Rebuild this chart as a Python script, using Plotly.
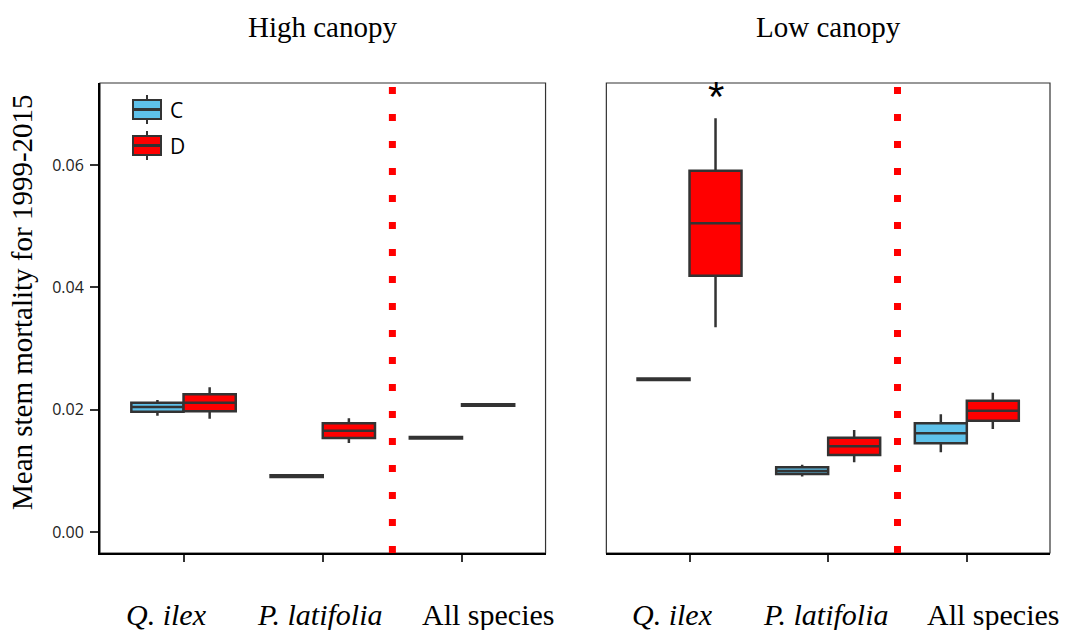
import plotly.graph_objects as go

# Species groups on the x axis and the two canopy panels
species = ["<i>Q. ilex</i>", "<i>P. latifolia</i>", "All species"]
panels = ["High canopy", "Low canopy"]

# Box summaries (lower whisker, Q1, median, Q3, upper whisker) per treatment
high_C_low = [0.0190, 0.00895, 0.01525]
high_C_q1 = [0.01967, 0.00900, 0.01530]
high_C_med = [0.02044, 0.00915, 0.01542]
high_C_q3 = [0.02115, 0.00930, 0.01555]
high_C_up = [0.0216, 0.00935, 0.01560]

high_D_low = [0.01853, 0.01455, 0.02060]
high_D_q1 = [0.01974, 0.01537, 0.02065]
high_D_med = [0.02115, 0.01657, 0.02077]
high_D_q3 = [0.02252, 0.01778, 0.02090]
high_D_up = [0.02366, 0.01859, 0.02095]

low_C_low = [0.02480, 0.0091, 0.01303]
low_C_q1 = [0.02485, 0.0095, 0.01451]
low_C_med = [0.02497, 0.0100, 0.01614]
low_C_q3 = [0.02510, 0.0106, 0.01778]
low_C_up = [0.02515, 0.0110, 0.01925]

low_D_low = [0.03348, 0.0114, 0.01684]
low_D_q1 = [0.04191, 0.01259, 0.0182]
low_D_med = [0.05048, 0.01401, 0.01984]
low_D_q3 = [0.05908, 0.01542, 0.02147]
low_D_up = [0.06765, 0.01668, 0.02278]

treatments = ["C", "D"]
fill = {"C": "#5EC1EA", "D": "#FF0000"}
outline = "#333333"
dodge = 0.1875
box_w = 0.375

data = {
    ("High canopy", "C"): (high_C_low, high_C_q1, high_C_med, high_C_q3, high_C_up),
    ("High canopy", "D"): (high_D_low, high_D_q1, high_D_med, high_D_q3, high_D_up),
    ("Low canopy", "C"): (low_C_low, low_C_q1, low_C_med, low_C_q3, low_C_up),
    ("Low canopy", "D"): (low_D_low, low_D_q1, low_D_med, low_D_q3, low_D_up),
}

fig = go.Figure()
axes = {"High canopy": ("x", "y"), "Low canopy": ("x2", "y2")}
cats = [1, 2, 3]

for panel in panels:
    xa, ya = axes[panel]
    for t in treatments:
        lo, q1, med, q3, up = data[(panel, t)]
        off = -dodge if t == "C" else dodge
        fig.add_trace(go.Box(
            x=[c + off for c in cats], q1=q1, median=med, q3=q3,
            lowerfence=lo, upperfence=up,
            width=box_w, whiskerwidth=0, boxpoints=False,
            fillcolor=fill[t], line=dict(color=outline, width=2.5),
            name=t, showlegend=False, xaxis=xa, yaxis=ya,
        ))

serif = "Liberation Serif, Times New Roman, serif"
sans = "Open Sans, Noto Sans, sans-serif"

xcommon = dict(
    range=[0.4, 3.6], tickvals=cats, showticklabels=False,
    showline=True, linecolor="black", linewidth=2,
    ticks="outside", ticklen=7, tickwidth=1.5, tickcolor="#333",
    showgrid=False, zeroline=False, automargin=False,
)
ycommon = dict(
    range=[-0.00343, 0.07343], showgrid=False, zeroline=False, automargin=False,
)

fig.update_layout(
    width=1065, height=630,
    margin=dict(l=100, r=15, t=83, b=77),
    plot_bgcolor="white", paper_bgcolor="white",
    boxmode="overlay",
    xaxis=dict(domain=[0, 0.469], anchor="y", **xcommon),
    xaxis2=dict(domain=[0.533, 1], anchor="y2", **xcommon),
    yaxis=dict(
        anchor="x", showline=True, linecolor="black", linewidth=2,
        ticks="outside", ticklen=8, tickwidth=1.5, tickcolor="#333",
        tickvals=[0, 0.02, 0.04, 0.06], tickformat=".2f",
        tickfont=dict(family=sans, size=16, color="#222"), ticklabelstandoff=3,
        **ycommon,
    ),
    yaxis2=dict(anchor="x2", showline=False, showticklabels=False, ticks="", **ycommon),
)

# Y axis title
fig.add_annotation(text="Mean stem mortality for 1999-2015", textangle=-90,
                   xref="paper", yref="paper", x=(22 - 100) / 950, y=(553 - 302) / 470,
                   xanchor="center", yanchor="middle", showarrow=False,
                   font=dict(family=serif, size=29, color="black"))

# Species labels under each panel, set a little off their ticks
label_shift = [-0.125, -0.02, 0.19]
for xa in ["x", "x2"]:
    for c, lab, s in zip(cats, species, label_shift):
        fig.add_annotation(text=lab, xref=xa, yref="paper", x=c + s, y=0,
                           yanchor="middle", yshift=-61, showarrow=False,
                           font=dict(family=serif, size=30, color="black"))

# Panel borders and the red dotted divider before "All species"
for xa, ya in [("x", "y"), ("x2", "y2")]:
    fig.add_shape(type="rect", xref=f"{xa} domain", yref=f"{ya} domain",
                  x0=0, x1=1, y0=0, y1=1, line=dict(color="#333", width=1.2),
                  layer="below")
    fig.add_shape(type="line", xref=xa, yref=f"{ya} domain",
                  x0=2.5, x1=2.5, y0=0.0, y1=466 / 470,
                  line=dict(color="#FF0000", width=7, dash="7px,20px"))

# Panel titles
for panel, xa in [("High canopy", "x"), ("Low canopy", "x2")]:
    fig.add_annotation(text=panel, xref=f"{xa} domain", yref="paper",
                       x=0.5, y=1, yanchor="middle", yshift=56, showarrow=False,
                       font=dict(family=serif, size=29, color="black"))

# Significance mark above Q. ilex (D) in low canopy
fig.add_annotation(text="*", xref="x2", yref="y2", x=1 + dodge, y=low_D_up[0],
                   yanchor="bottom", yshift=-4, showarrow=False,
                   font=dict(family="Liberation Sans, Arial, sans-serif", size=42, color="black"))

# Legend keys drawn as small boxplots
def px_x(px):
    return (px - 100) / 950


def px_y(py):
    return (553 - py) / 470


for t, top in [("C", 100), ("D", 136)]:
    bot = top + 19
    mid = (top + bot) / 2
    fig.add_shape(type="line", xref="paper", yref="paper",
                  x0=px_x(147), x1=px_x(147), y0=px_y(top - 5), y1=px_y(bot + 5),
                  line=dict(color=outline, width=2))
    fig.add_shape(type="rect", xref="paper", yref="paper",
                  x0=px_x(133), x1=px_x(161), y0=px_y(bot), y1=px_y(top),
                  fillcolor=fill[t], line=dict(color=outline, width=2))
    fig.add_shape(type="line", xref="paper", yref="paper",
                  x0=px_x(133), x1=px_x(161), y0=px_y(mid), y1=px_y(mid),
                  line=dict(color=outline, width=3))
    fig.add_annotation(text=t, xref="paper", yref="paper", x=px_x(168), y=px_y(mid),
                       xanchor="left", yanchor="middle", showarrow=False,
                       font=dict(family=sans, size=21, color="black"))

fig.write_html("out.html")
